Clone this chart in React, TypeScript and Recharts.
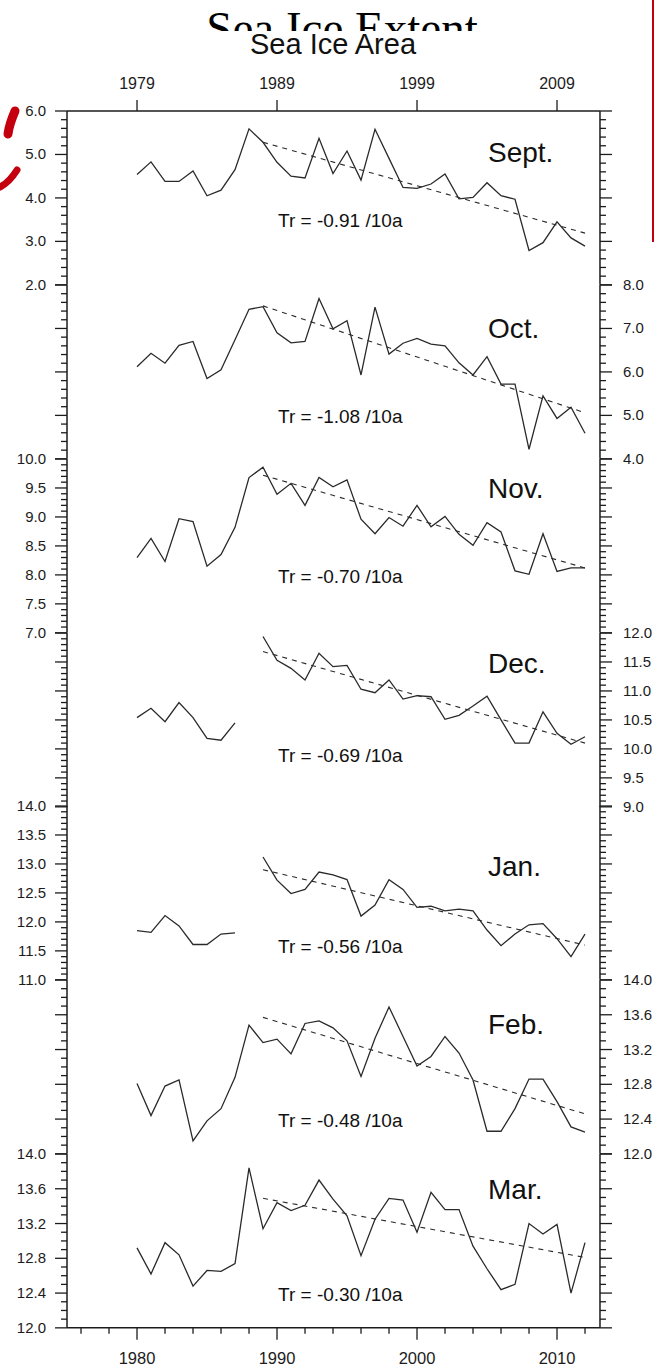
import React from 'react';
import { LineChart, Line, XAxis, YAxis } from 'recharts';

// years on the x axis
const years = [
  1980, 1981, 1982, 1983, 1984, 1985, 1986, 1987, 1988, 1989,
  1990, 1991, 1992, 1993, 1994, 1995, 1996, 1997, 1998, 1999,
  2000, 2001, 2002, 2003, 2004, 2005, 2006, 2007, 2008, 2009,
  2010, 2011, 2012,
];

// monthly sea ice area (10^6 km^2)
const septArea = [4.54, 4.83, 4.38, 4.38, 4.62, 4.05, 4.18, 4.65, 5.59, 5.28, 4.82, 4.5, 4.46, 5.37, 4.56, 5.08, 4.41, 5.58, 4.91, 4.24, 4.22, 4.32, 4.55, 3.98, 4.01, 4.35, 4.05, 3.97, 2.79, 2.97, 3.45, 3.08, 2.89];
const octArea = [6.12, 6.43, 6.2, 6.61, 6.7, 5.85, 6.05, 6.74, 7.44, 7.5, 6.9, 6.67, 6.7, 7.69, 6.99, 7.18, 5.93, 7.49, 6.41, 6.66, 6.77, 6.64, 6.6, 6.21, 5.93, 6.35, 5.72, 5.72, 4.22, 5.45, 4.93, 5.19, 4.59];
const novArea = [8.3, 8.63, 8.23, 8.97, 8.92, 8.15, 8.35, 8.82, 9.68, 9.86, 9.39, 9.58, 9.2, 9.68, 9.52, 9.64, 8.96, 8.71, 8.99, 8.84, 9.2, 8.83, 9.01, 8.7, 8.51, 8.9, 8.74, 8.07, 8.01, 8.71, 8.06, 8.12, 8.12];
const decArea = [10.54, 10.7, 10.47, 10.8, 10.54, 10.18, 10.15, 10.45, null, 11.94, 11.53, 11.39, 11.19, 11.65, 11.42, 11.44, 11.03, 10.97, 11.19, 10.86, 10.92, 10.9, 10.51, 10.58, 10.74, 10.91, 10.5, 10.1, 10.1, 10.64, 10.27, 10.08, 10.21];
const janArea = [11.85, 11.82, 12.11, 11.93, 11.61, 11.61, 11.79, 11.81, null, 13.12, 12.72, 12.49, 12.56, 12.86, 12.81, 12.73, 12.1, 12.29, 12.73, 12.56, 12.25, 12.27, 12.19, 12.22, 12.19, 11.86, 11.59, 11.79, 11.95, 11.97, 11.71, 11.4, 11.79];
const febArea = [12.81, 12.44, 12.78, 12.85, 12.15, 12.38, 12.52, 12.88, 13.48, 13.28, 13.32, 13.15, 13.5, 13.53, 13.45, 13.3, 12.89, 13.33, 13.69, 13.35, 13.01, 13.12, 13.35, 13.16, 12.85, 12.26, 12.26, 12.52, 12.86, 12.86, 12.6, 12.31, 12.25];
const marArea = [12.92, 12.62, 12.98, 12.84, 12.48, 12.66, 12.65, 12.74, 13.84, 13.14, 13.44, 13.35, 13.41, 13.7, 13.48, 13.29, 12.83, 13.25, 13.49, 13.47, 13.1, 13.56, 13.36, 13.36, 12.94, 12.68, 12.44, 12.5, 13.2, 13.08, 13.19, 12.4, 12.98];

// linear trend (1989 -> 2012), end values
const trendYears = [1989, 2012];
const septTrend = [5.28, 3.19];
const octTrend = [7.52, 5.06];
const novTrend = [9.72, 8.12];
const decTrend = [11.68, 10.1];
const janTrend = [12.9, 11.6];
const febTrend = [13.57, 12.46];
const marTrend = [13.49, 12.81];

const monthNames = ['Sept.', 'Oct.', 'Nov.', 'Dec.', 'Jan.', 'Feb.', 'Mar.'];
const trendRates = ['-0.91', '-1.08', '-0.70', '-0.69', '-0.56', '-0.48', '-0.30'];

// y tick labels
const septTicks = [2.0, 3.0, 4.0, 5.0, 6.0];
const octTicks = [4.0, 5.0, 6.0, 7.0, 8.0];
const novTicks = [7.0, 7.5, 8.0, 8.5, 9.0, 9.5, 10.0];
const decTicks = [9.0, 9.5, 10.0, 10.5, 11.0, 11.5, 12.0];
const janTicks = [11.0, 11.5, 12.0, 12.5, 13.0, 13.5, 14.0];
const febTicks = [12.0, 12.4, 12.8, 13.2, 13.6, 14.0];
const marTicks = [12.0, 12.4, 12.8, 13.2, 13.6, 14.0];

// x tick labels
const topTickYears = [1980, 1990, 2000, 2010];
const topTickLabels = ['1979', '1989', '1999', '2009'];
const bottomTickYears = [1980, 1990, 2000, 2010];
const bottomTickLabels = ['1980', '1990', '2000', '2010'];

const FONT = '"Liberation Sans", Arial, Helvetica, sans-serif';
const INK = '#1c1c1c';
const PLOT_TOP = 111;
const PLOT_BOTTOM = 1328;
const PANEL_H = (PLOT_BOTTOM - PLOT_TOP) / 7;
const EXT = 40;
const X_DOMAIN = [1975, 2013.07];

const nameBaselines = [162, 338, 498, 673, 876, 1034, 1199];
const trBaselines = [227, 423, 583, 762, 953, 1127, 1301];

const panels = [
  { values: septArea, trend: septTrend, majors: septTicks, minorStep: 0.2, labelSide: 'left' },
  { values: octArea, trend: octTrend, majors: octTicks, minorStep: 0.2, labelSide: 'right' },
  { values: novArea, trend: novTrend, majors: novTicks, minorStep: 0.1, labelSide: 'left' },
  { values: decArea, trend: decTrend, majors: decTicks, minorStep: 0.1, labelSide: 'right' },
  { values: janArea, trend: janTrend, majors: janTicks, minorStep: 0.1, labelSide: 'left' },
  { values: febArea, trend: febTrend, majors: febTicks, minorStep: 0.1, labelSide: 'right' },
  { values: marArea, trend: marTrend, majors: marTicks, minorStep: 0.1, labelSide: 'left' },
];

function allTicks(majors: number[], step: number) {
  const lo = majors[0];
  const hi = majors[majors.length - 1];
  const n = Math.round((hi - lo) / step);
  return Array.from({ length: n + 1 }, (_, k) => +(lo + k * step).toFixed(2));
}

const minorXTicks = Array.from({ length: 19 }, (_, k) => 1976 + 2 * k);

function YTick(props: any) {
  const { x, y, payload, side, majors, showLabel } = props;
  const v = payload.value;
  const major = majors.some((m: number) => Math.abs(m - v) < 1e-6);
  const dir = side === 'left' ? -1 : 1;
  const len = major ? 12 : 6;
  return (
    <g>
      <line x1={x} y1={y} x2={x + dir * len} y2={y} stroke={INK} strokeWidth={1.3} />
      {major && showLabel && (
        <text
          x={side === 'left' ? x - 21 : x + 23}
          y={y}
          dy={5}
          textAnchor={side === 'left' ? 'end' : 'start'}
          fontSize={15}
          fontFamily={FONT}
          fill={INK}
        >
          {v.toFixed(1)}
        </text>
      )}
    </g>
  );
}

function TopTick(props: any) {
  const { x, y, payload } = props;
  const idx = topTickYears.indexOf(payload.value);
  return (
    <g>
      <line x1={x} y1={y} x2={x} y2={y - 11} stroke={INK} strokeWidth={1.3} />
      <text x={x} y={y - 22} textAnchor="middle" fontSize={16} fontFamily={FONT} fill={INK}>
        {topTickLabels[idx]}
      </text>
    </g>
  );
}

function BottomTick(props: any) {
  const { x, y, payload } = props;
  const idx = bottomTickYears.indexOf(payload.value);
  const major = idx >= 0;
  return (
    <g>
      <line x1={x} y1={y} x2={x} y2={y + (major ? 12 : 6)} stroke={INK} strokeWidth={1.3} />
      {major && (
        <text x={x} y={y + 36} textAnchor="middle" fontSize={16.5} fontFamily={FONT} fill={INK}>
          {bottomTickLabels[idx]}
        </text>
      )}
    </g>
  );
}

function Panel({ index }: { index: number }) {
  const p = panels[index];
  const rows = years.map((year, i) => ({
    year,
    v: p.values[i],
    t: year === trendYears[0] ? p.trend[0] : year === trendYears[1] ? p.trend[1] : null,
  }));
  const first = index === 0;
  const last = index === panels.length - 1;
  const ticks = allTicks(p.majors, p.minorStep);
  const domain = [p.majors[0], p.majors[p.majors.length - 1]];
  const top = PLOT_TOP + index * PANEL_H - EXT;
  return (
    <div style={{ position: 'absolute', left: 0, top }}>
      <LineChart
        width={656}
        height={PANEL_H + 2 * EXT}
        data={rows}
        margin={{ top: first ? 0 : EXT, bottom: last ? 0 : EXT, left: 0, right: 0 }}
      >
        <XAxis
          dataKey="year"
          type="number"
          domain={X_DOMAIN}
          allowDataOverflow
          orientation={first ? 'top' : 'bottom'}
          hide={!first && !last}
          height={EXT}
          ticks={first ? topTickYears : minorXTicks}
          interval={0}
          tickSize={0}
          tickMargin={0}
          tickLine={false}
          axisLine={{ stroke: INK, strokeWidth: 1.5 }}
          tick={first ? (t: any) => <TopTick {...t} /> : (t: any) => <BottomTick {...t} />}
        />
        <YAxis
          yAxisId="l"
          orientation="left"
          width={67}
          type="number"
          domain={domain}
          allowDataOverflow
          ticks={ticks}
          interval={0}
          tickSize={0}
          tickMargin={0}
          tickLine={false}
          axisLine={{ stroke: INK, strokeWidth: 1.5 }}
          tick={(t: any) => (
            <YTick {...t} side="left" majors={p.majors} showLabel={p.labelSide === 'left'} />
          )}
        />
        <YAxis
          yAxisId="r"
          orientation="right"
          width={56}
          type="number"
          domain={domain}
          allowDataOverflow
          ticks={ticks}
          interval={0}
          tickSize={0}
          tickMargin={0}
          tickLine={false}
          axisLine={{ stroke: INK, strokeWidth: 1.5 }}
          tick={(t: any) => (
            <YTick {...t} side="right" majors={p.majors} showLabel={p.labelSide === 'right'} />
          )}
        />
        <Line
          yAxisId="l"
          type="linear"
          dataKey="v"
          stroke="#2a2a2a"
          strokeWidth={1.3}
          dot={false}
          connectNulls={false}
          isAnimationActive={false}
        />
        <Line
          yAxisId="l"
          type="linear"
          dataKey="t"
          stroke="#2a2a2a"
          strokeWidth={1.1}
          strokeDasharray="5 5"
          dot={false}
          connectNulls
          isAnimationActive={false}
        />
      </LineChart>
    </div>
  );
}

export default function App() {
  return (
    <div style={{ position: 'absolute', left: 0, top: 0, width: 656, height: 1366, background: '#fff', overflow: 'hidden' }}>
      {panels.map((_, i) => (
        <Panel key={i} index={i} />
      ))}
      <svg
        width={656}
        height={1366}
        style={{ position: 'absolute', left: 0, top: 0, pointerEvents: 'none' }}
      >
        <defs>
          <clipPath id="cutTitle">
            <rect x={0} y={0} width={656} height={31} />
          </clipPath>
        </defs>
        <text
          x={342}
          y={44}
          textAnchor="middle"
          fontSize={47}
          fontFamily='"Liberation Serif", "Times New Roman", serif'
          fill="#000"
          clipPath="url(#cutTitle)"
        >
          Sea Ice Extent
        </text>
        <text x={333} y={54} textAnchor="middle" fontSize={29} fontFamily={FONT} fill="#111">
          Sea Ice Area
        </text>
        {monthNames.map((m, i) => (
          <text key={m} x={488} y={nameBaselines[i]} fontSize={28} fontFamily={FONT} fill="#111">
            {m}
          </text>
        ))}
        {trendRates.map((r, i) => (
          <text key={i} x={278} y={trBaselines[i]} fontSize={19} fontFamily={FONT} fill="#111">
            {`Tr = ${r} /10a`}
          </text>
        ))}
        {/* red pen marks along the edges of the scan */}
        <path d="M 15 111 C 12 118, 9 126, 8 134" stroke="#c4000f" strokeWidth={9} strokeLinecap="round" fill="none" />
        <path d="M 0 187 C 6 184, 12 178, 17 170" stroke="#c4000f" strokeWidth={7} strokeLinecap="round" fill="none" />
        <line x1={653} y1={0} x2={653} y2={242} stroke="#c4000f" strokeWidth={2} />
      </svg>
    </div>
  );
}
